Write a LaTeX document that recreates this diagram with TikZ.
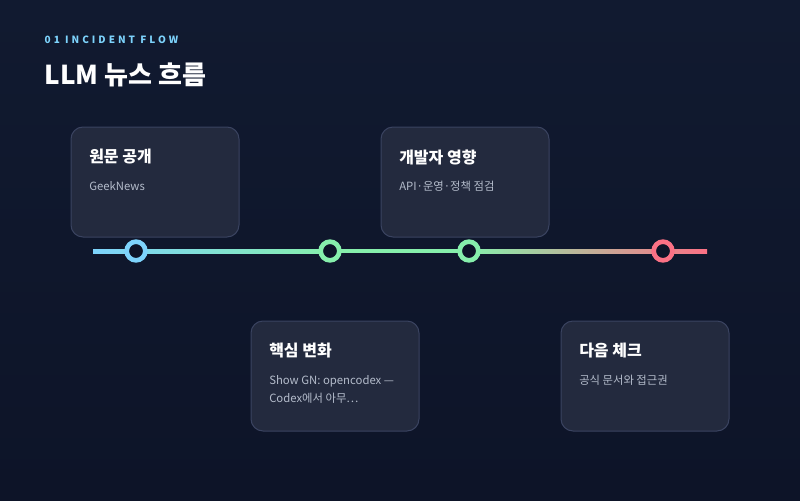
\documentclass[tikz,border=0pt]{standalone}
\usepackage{fontspec}
\setmainfont{Noto Sans CJK KR}
\usetikzlibrary{positioning}
\definecolor{bgtop}{HTML}{111A30}
\definecolor{bgbot}{HTML}{0D1428}
\definecolor{cardfill}{HTML}{232A3E}
\definecolor{cardline}{HTML}{3A4360}
\definecolor{skyc}{HTML}{7DD3FC}
\definecolor{mintc}{HTML}{86EFAC}
\definecolor{rosec}{HTML}{FB7185}
\definecolor{subtxt}{HTML}{B4BCCB}
\tikzset{
  card/.style={rectangle, rounded corners=9pt, draw=cardline, fill=cardfill, line width=0.75pt, minimum width=126pt, minimum height=82.5pt},
  ctitle/.style={anchor=west, text=white, font=\bfseries\fontsize{12}{14}\selectfont, inner sep=0pt},
  csub/.style={anchor=north west, text=subtxt, font=\fontsize{8.5}{14}\selectfont, inner sep=0pt, align=left},
  dot/.style={circle, line width=3.5pt, fill=bgbot, minimum size=14pt, inner sep=0pt}
}
\begin{document}
\begin{tikzpicture}[x=0.75pt, y=-0.75pt]
% background
\shade[top color=bgtop, bottom color=bgbot] (0,0) rectangle (800,500);
\useasboundingbox (0,0) rectangle (800,500);

\node[anchor=west, text=skyc, font=\bfseries\fontsize{7.5}{10}\selectfont] (kicker) at (40,40) {\addfontfeature{LetterSpace=30}01 INCIDENT FLOW};
\node[anchor=west, text=white, font=\bfseries\fontsize{19.5}{22}\selectfont] (title) at (40,75) {LLM 뉴스 흐름};

% timeline
\shade[left color=skyc, right color=mintc] (93,249) rectangle (330,253);
\fill[mintc] (330,249) rectangle (469,253);
\shade[left color=mintc, right color=rosec] (469,249) rectangle (707,253);

\node (d1) [dot, draw=skyc] at (136,251) {};
\node (d2) [dot, draw=mintc] at (330,251) {};
\node (d3) [dot, draw=mintc] at (469,251) {};
\node (d4) [dot, draw=rosec] at (663,251) {};

% cards
\node (c1) [card] at (155,182) {};
\node (c2) [card] at (465,182) {};
\node (c3) [card] at (335,376) {};
\node (c4) [card] at (645,376) {};

\node[ctitle] at (89,157) {원문 공개};
\node[csub] at (89,181) {GeekNews};
\node[ctitle] at (399,157) {개발자 영향};
\node[csub] at (399,181) {API·운영·정책 점검};
\node[ctitle] at (269,351) {핵심 변화};
\node[csub] at (269,375) {Show GN: opencodex —\\Codex에서 아무⋯};
\node[ctitle] at (579,351) {다음 체크};
\node[csub] at (579,375) {공식 문서와 접근권};
\end{tikzpicture}
\end{document}
